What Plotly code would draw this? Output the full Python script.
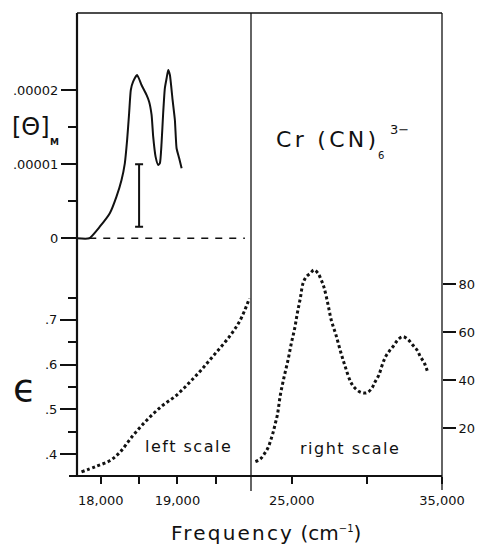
import plotly.graph_objects as go

# ---- data -------------------------------------------------------------
# Circular dichroism, molar ellipticity (left panel, upper scale)
cd_freq = [17850, 17987, 18118, 18205, 18271, 18314, 18344, 18370, 18392, 18422,
           18474, 18532, 18597, 18631, 18663, 18684, 18715, 18749, 18771, 18793,
           18814, 18836, 18859, 18880, 18902, 18937, 18967, 18989, 19023, 19055]
cd_theta = [0.0, 0.156e-5, 0.337e-5, 0.561e-5, 0.786e-5, 1.011e-5, 1.326e-5, 1.686e-5,
            2.000e-5, 2.112e-5, 2.202e-5, 2.067e-5, 1.933e-5, 1.842e-5, 1.663e-5,
            1.370e-5, 1.101e-5, 0.989e-5, 1.011e-5, 1.281e-5, 1.686e-5, 2.023e-5,
            2.158e-5, 2.270e-5, 2.202e-5, 1.865e-5, 1.595e-5, 1.214e-5, 1.079e-5, 0.944e-5]

# Uncertainty bar on the ellipticity
err_freq = 18500
err_low, err_high = 0.156e-5, 1.0e-5

# Absorption, left scale (weak band region)
eps_left_freq = [17749, 17935, 18117, 18251, 18419, 18597, 18788, 18978,
                 19152, 19316, 19490, 19671, 19818, 19939]
eps_left = [0.360, 0.372, 0.385, 0.404, 0.441, 0.475, 0.506, 0.530,
            0.559, 0.589, 0.624, 0.661, 0.699, 0.748]

# Absorption, right scale (spin-allowed bands)
eps_right_freq = [22583, 22915, 23207, 23426, 23606, 23758, 23911, 24044, 24243, 24489,
                  24755, 24973, 25199, 25372, 25571, 25750, 25969, 26235, 26481, 26746,
                  26965, 27145, 27410, 27630, 27942, 28254, 28559, 28918, 29183, 29582,
                  30000, 30332, 30551, 30797, 31016, 31242, 31507, 31773, 32059, 32390,
                  32722, 33054, 33340, 33566, 33831, 34050]
eps_right = [6.1, 7.2, 9.6, 11.9, 15.1, 18.2, 22.1, 25.5, 33.9, 41.3,
             48.5, 55.4, 61.7, 67.9, 74.2, 80.4, 83.2, 84.6, 86.0, 84.6,
             81.8, 78.8, 71.7, 65.1, 58.9, 51.9, 45.7, 39.4, 36.9, 35.0,
             34.8, 36.7, 39.4, 42.2, 46.3, 49.8, 52.3, 54.3, 56.8, 58.2,
             57.1, 54.7, 52.6, 49.8, 47.1, 43.3]

# ---- tick labels --------------------------------------------------------
x1_ticks = [18000, 18500, 19000, 19500]
x1_text = ["18,000", "", "19,000", ""]
x2_ticks = [25000, 30000, 35000]
x2_text = ["25,000", "", "35,000"]
cd_ticks = [0, 1e-5, 2e-5]
cd_text = ["0", ".00001", ".00002"]
cd_minor = [0.5e-5, 1.5e-5]
eps_ticks = [0.4, 0.5, 0.6, 0.7]
eps_text = [".4", ".5", ".6", ".7"]
eps_minor = [0.45, 0.55, 0.65, 0.75]
right_ticks = [20, 40, 60, 80]

# ---- layout geometry (pixels) -----------------------------------------
W, H = 481, 551
L, R, T, B = 77, 442, 13, 476
DIV = 251


def px(x):
    return (x - L) / (R - L)


def py(y):
    return (B - y) / (B - T)


def spaced(s, sp):
    return f'<span style="letter-spacing:{sp}px">{s}</span>'


FONT = "DejaVu Sans"
BLACK = "#111"

fig = go.Figure()

# zero line of the CD scale
fig.add_trace(go.Scatter(x=[cd_freq[0], 19880], y=[0, 0], mode="lines",
                         line=dict(color=BLACK, width=1.6, dash="7px,7px"),
                         xaxis="x", yaxis="y", hoverinfo="skip"))
# CD curve
fig.add_trace(go.Scatter(x=[17690] + cd_freq, y=[0.0] + cd_theta, mode="lines",
                         line=dict(color=BLACK, width=2, shape="spline", smoothing=0.5),
                         xaxis="x", yaxis="y"))
# error bar
mid = (err_low + err_high) / 2
fig.add_trace(go.Scatter(x=[err_freq], y=[mid], mode="markers",
                         marker=dict(size=1, color="rgba(0,0,0,0)"),
                         error_y=dict(type="data", array=[err_high - mid], visible=True,
                                      color=BLACK, thickness=2, width=4),
                         xaxis="x", yaxis="y"))
# absorption, left scale
fig.add_trace(go.Scatter(x=eps_left_freq, y=eps_left, mode="lines",
                         line=dict(color=BLACK, width=3, dash="3px,2.6px", shape="spline"),
                         xaxis="x", yaxis="y2"))
# absorption, right scale
fig.add_trace(go.Scatter(x=eps_right_freq, y=eps_right, mode="lines",
                         line=dict(color=BLACK, width=3, dash="3px,2.6px", shape="spline"),
                         xaxis="x2", yaxis="y3"))

tick_font = dict(family=FONT, size=13, color=BLACK)
common = dict(showgrid=False, zeroline=False, showline=False, automargin=False,
              tickmode="array", ticks="outside", tickwidth=2, tickcolor=BLACK)

fig.update_layout(
    width=W, height=H,
    margin=dict(l=L, r=W - R, t=T, b=H - B, pad=0, autoexpand=False),
    paper_bgcolor="white", plot_bgcolor="white",
    showlegend=False,
    xaxis=dict(domain=[0, px(DIV)], range=[17690, 19960], anchor="y2",
               tickvals=x1_ticks, ticktext=x1_text, ticklen=7,
               ticklabelstandoff=5, tickfont=tick_font, **common),
    xaxis2=dict(domain=[px(DIV), 1], range=[22290, 35000], anchor="y3",
                tickvals=x2_ticks, ticktext=x2_text, ticklen=7,
                ticklabelstandoff=5, tickfont=tick_font, **common),
    yaxis=dict(domain=[py(250), 1], range=[-0.158e-5, 3.038e-5], anchor="x",
               tickvals=cd_ticks, ticktext=cd_text, ticklen=15,
               tickfont=dict(family=FONT, size=13, color=BLACK),
               minor=dict(tickmode="array", tickvals=cd_minor, ticks="outside",
                          ticklen=8, tickwidth=2, tickcolor=BLACK), **common),
    yaxis2=dict(domain=[0, py(285)], range=[0.3508, 0.778], anchor="x",
                tickvals=eps_ticks, ticktext=eps_text, ticklen=16,
                tickfont=dict(family=FONT, size=13, color=BLACK),
                minor=dict(tickmode="array", tickvals=eps_minor, ticks="outside",
                           ticklen=8, tickwidth=2, tickcolor=BLACK), **common),
    yaxis3=dict(domain=[0, py(262)], range=[0.1, 89.3], anchor="x2", side="right",
                tickvals=right_ticks, ticklen=13, tickfont=tick_font, **common),
)

# frame: outer box, panel divider and bottom baseline
frame = [
    (L, T, L, B, 2.2),        # left axis
    (L, T, R, T, 1.5),        # top
    (R, T, R, 490, 1.3),      # right axis (extends as end tick)
    (DIV, T, DIV, 491, 1.3),  # divider (extends as tick)
    (69, B, R, B, 2.2),       # bottom axis
]
for x0, y0, x1, y1, w in frame:
    fig.add_shape(type="line", xref="paper", yref="paper",
                  x0=px(x0), y0=py(y0), x1=px(x1), y1=py(y1),
                  line=dict(color=BLACK, width=w))


def label(text, x, y, size, xanchor="center", bold=False):
    fig.add_annotation(text=f"<b>{text}</b>" if bold else text,
                       xref="paper", yref="paper", x=px(x), y=py(y),
                       xanchor=xanchor, yanchor="middle", showarrow=False,
                       font=dict(family=FONT, size=size, color=BLACK))


label("[Θ]", 31, 127, 24)
label("M", 54, 142, 9, bold=True)
label("ϵ", 24, 388, 38)
label(spaced("Cr (CN)", 3.3), 274, 139, 22, xanchor="left")
label("6", 381, 155, 10)
label("3−", 388, 129, 13, xanchor="left")
label(spaced("left scale", 1.5), 188, 446, 16)
label(spaced("right scale", 1.5), 350, 448, 16)
label(spaced("Frequency", 2.2) + " (cm"
      + '<sup><span style="font-size:10px">−1</span></sup>)', 266, 533, 20)

fig.write_html("out.html")
